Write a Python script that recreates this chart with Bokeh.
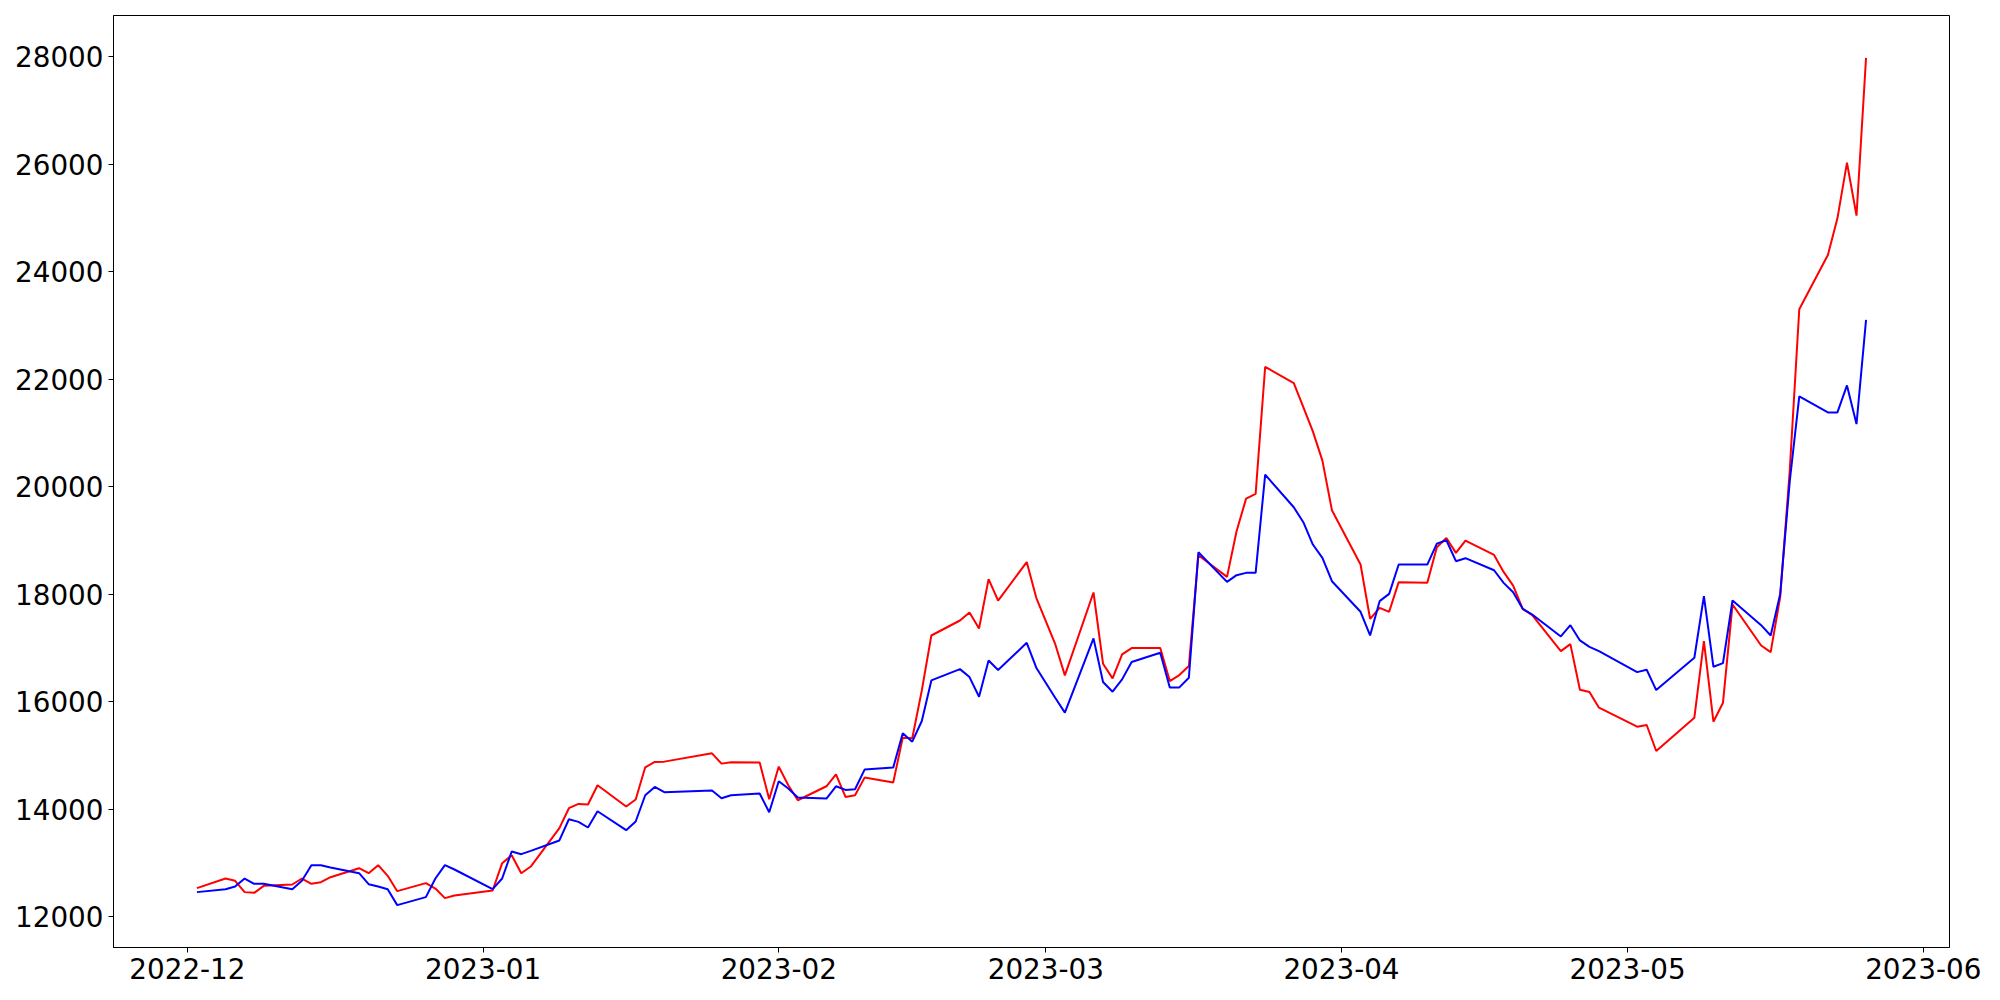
import pandas as pd
from bokeh.plotting import figure
from bokeh.models import Range1d, FixedTicker, MonthsTicker, DatetimeTickFormatter
from bokeh.embed import file_html
from bokeh.resources import INLINE

dates = [
    "2022-12-02", "2022-12-05", "2022-12-06", "2022-12-07", "2022-12-08", "2022-12-09",
    "2022-12-12", "2022-12-13", "2022-12-14", "2022-12-15", "2022-12-16",
    "2022-12-19", "2022-12-20", "2022-12-21", "2022-12-22", "2022-12-23",
    "2022-12-26", "2022-12-27", "2022-12-28", "2022-12-29",
    "2023-01-02", "2023-01-03", "2023-01-04", "2023-01-05", "2023-01-06",
    "2023-01-09", "2023-01-10", "2023-01-11", "2023-01-12", "2023-01-13",
    "2023-01-16", "2023-01-17", "2023-01-18", "2023-01-19", "2023-01-20",
    "2023-01-25", "2023-01-26", "2023-01-27",
    "2023-01-30", "2023-01-31", "2023-02-01", "2023-02-02", "2023-02-03",
    "2023-02-06", "2023-02-07", "2023-02-08", "2023-02-09", "2023-02-10",
    "2023-02-13", "2023-02-14", "2023-02-15", "2023-02-16", "2023-02-17",
    "2023-02-20", "2023-02-21", "2023-02-22", "2023-02-23", "2023-02-24",
    "2023-02-27", "2023-02-28", "2023-03-02", "2023-03-03",
    "2023-03-06", "2023-03-07", "2023-03-08", "2023-03-09", "2023-03-10",
    "2023-03-13", "2023-03-14", "2023-03-15", "2023-03-16", "2023-03-17",
    "2023-03-20", "2023-03-21", "2023-03-22", "2023-03-23", "2023-03-24",
    "2023-03-27", "2023-03-28", "2023-03-29", "2023-03-30", "2023-03-31",
    "2023-04-03", "2023-04-04", "2023-04-05", "2023-04-06", "2023-04-07",
    "2023-04-10", "2023-04-11", "2023-04-12", "2023-04-13", "2023-04-14",
    "2023-04-17", "2023-04-18", "2023-04-19", "2023-04-20", "2023-04-21",
    "2023-04-24", "2023-04-25", "2023-04-26", "2023-04-27", "2023-04-28",
    "2023-05-02", "2023-05-03", "2023-05-04",
    "2023-05-08", "2023-05-09", "2023-05-10", "2023-05-11", "2023-05-12",
    "2023-05-15", "2023-05-16", "2023-05-17", "2023-05-18", "2023-05-19",
    "2023-05-22", "2023-05-23", "2023-05-24", "2023-05-25", "2023-05-26",
]

red_values = [
    12533, 12712, 12669, 12459, 12446, 12576,
    12601, 12712, 12613, 12644, 12737,
    12904, 12811, 12960, 12762, 12477,
    12626, 12526, 12347, 12396,
    12489, 12997, 13146, 12811, 12935,
    13650, 14020, 14100, 14090, 14447,
    14051, 14181, 14781, 14880, 14886,
    15041, 14849, 14874,
    14868, 14187, 14794, 14447, 14168,
    14428, 14651, 14230, 14261, 14589,
    14496, 15332, 15320, 16211, 17232,
    17511, 17660, 17362, 18280, 17880,
    18598, 17933, 17066, 16490,
    18032, 16707, 16434, 16880, 16998,
    16998, 16385, 16496, 16664, 18726,
    18323, 19171, 19778, 19865, 22230,
    21927, 21480, 21029, 20484, 19562,
    18552, 17543, 17747, 17673, 18224,
    18212, 18874, 19047, 18769, 18998,
    18730, 18415, 18161, 17728, 17610,
    16941, 17071, 16223, 16180, 15889,
    15536, 15567, 15084,
    15703, 17127, 15629, 15982, 17808,
    17047, 16923, 17950, 20300, 23300,
    24311, 24991, 26026, 25041, 27976,
]

blue_values = [
    12459, 12514, 12563, 12712, 12613, 12613,
    12514, 12669, 12960, 12960, 12916,
    12811, 12607, 12563, 12514, 12217,
    12366, 12712, 12960, 12880,
    12514, 12712, 13214, 13165, 13226,
    13420, 13815, 13766, 13661, 13964,
    13611, 13772, 14261, 14416, 14317,
    14348, 14205, 14261,
    14292, 13946, 14521, 14385, 14218,
    14199, 14428, 14360, 14373, 14738,
    14775, 15413, 15258, 15642, 16397,
    16607, 16459, 16093, 16768, 16590,
    17096, 16633, 16069, 15797,
    17178, 16366, 16187, 16416, 16738,
    16911, 16267, 16267, 16447, 18781,
    18230, 18354, 18397, 18397, 20224,
    19617, 19339, 18924, 18676, 18242,
    17673, 17233, 17871, 18007, 18552,
    18552, 18942, 19004, 18614, 18670,
    18446, 18211, 18037, 17728, 17622,
    17214, 17424, 17140, 17022, 16941,
    16551, 16595, 16217,
    16818, 17963, 16650, 16718, 17883,
    17424, 17232, 18006, 20100, 21679,
    21381, 21381, 21883, 21164, 23103,
]

y_ticks = [12000, 14000, 16000, 18000, 20000, 22000, 24000, 26000, 28000]

x = pd.to_datetime(dates)

# matplotlib-like 5% margins on each side
xmin, xmax = x.min(), x.max()
xspan = xmax - xmin
all_vals = red_values + blue_values
ymin, ymax = min(all_vals), max(all_vals)
yspan = ymax - ymin

p = figure(
    x_axis_type="datetime",
    frame_width=1836, frame_height=932,
    min_border_left=113, min_border_top=15, min_border_right=38, min_border_bottom=45,
    x_range=Range1d(start=(xmin - 0.05 * xspan).to_pydatetime(), end=(xmax + 0.05 * xspan).to_pydatetime()),
    y_range=Range1d(start=ymin - 0.05 * yspan, end=ymax + 0.05 * yspan),
    output_backend="svg", toolbar_location=None,
)

p.line(x, red_values, line_color="red", line_width=2)
p.line(x, blue_values, line_color="blue", line_width=2)

p.xgrid.visible = False
p.ygrid.visible = False
p.outline_line_color = "black"
p.outline_line_width = 1
p.outline_line_alpha = 1

p.xaxis.ticker = MonthsTicker(months=list(range(1, 13)))
p.xaxis.formatter = DatetimeTickFormatter(months="%Y-%m", days="%Y-%m", years="%Y-%m")
p.yaxis.ticker = FixedTicker(ticks=y_ticks)

for ax in (p.xaxis[0], p.yaxis[0]):
    ax.axis_line_color = "black"
    ax.axis_line_width = 1
    ax.major_tick_line_color = "black"
    ax.major_tick_line_width = 1
    ax.major_tick_out = 5
    ax.major_tick_in = 0
    ax.minor_tick_out = 0
    ax.minor_tick_in = 0
    ax.major_label_standoff = 5
    ax.major_label_text_font = "DejaVu Sans"
    ax.major_label_text_font_size = "27.8px"
    ax.major_label_text_color = "black"

p.background_fill_color = "white"
p.border_fill_color = "white"

open("out.html", "w").write(file_html(p, INLINE))
